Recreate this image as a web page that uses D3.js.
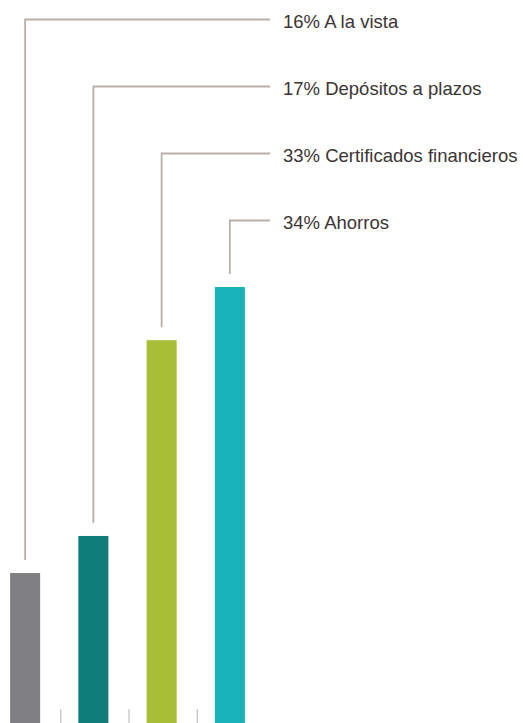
<!DOCTYPE html>
<html>
<head>
<meta charset="utf-8">
<script src="https://cdn.jsdelivr.net/npm/d3@7/dist/d3.min.js"></script>
<style>
  html, body { margin: 0; padding: 0; background: #ffffff; }
  svg { display: block; }
</style>
</head>
<body>
<svg id="chart" width="523" height="723"></svg>
<script>
// Data
const categories = ["A la vista", "Depósitos a plazos", "Certificados financieros", "Ahorros"];
const shares = [16, 17, 33, 34];                 // percent labels
const barLevel = [34.4, 42.9, 87.8, 100];        // drawn bar height, relative to tallest bar
const colors = ["#808083", "#0f7e79", "#a8be37", "#18b2bb"];

const W = 523, H = 723;
const svg = d3.select("#chart");

const x = d3.scaleBand()
  .domain(categories)
  .range([-9, 264])
  .paddingInner(0.56)
  .paddingOuter(0.28);

const y = d3.scaleLinear()
  .domain([0, 100])
  .range([H, 287]);

const lineColor = "#b8afab";

// Bars
svg.selectAll("rect.bar")
  .data(categories)
  .join("rect")
  .attr("class", "bar")
  .attr("x", d => x(d))
  .attr("width", x.bandwidth())
  .attr("y", (d, i) => y(barLevel[i]))
  .attr("height", (d, i) => H - y(barLevel[i]))
  .attr("fill", (d, i) => colors[i]);

// Small separator ticks at the base, between bars
const step = x.step();
svg.selectAll("line.sep")
  .data(categories.slice(1))
  .join("line")
  .attr("class", "sep")
  .attr("x1", d => x(d) - (step - x.bandwidth()) / 2 + 1.5)
  .attr("x2", d => x(d) - (step - x.bandwidth()) / 2 + 1.5)
  .attr("y1", H - 14)
  .attr("y2", H)
  .attr("stroke", "#c6c0bd")
  .attr("stroke-width", 1.2);

// Leader lines and labels
const labelX = 270;
const labelY0 = 19.5, labelStep = 67;
const g = svg.selectAll("g.lab")
  .data(categories)
  .join("g")
  .attr("class", "lab");

g.append("path")
  .attr("d", (d, i) => {
    const cx = x(d) + x.bandwidth() / 2;
    const ly = labelY0 + i * labelStep;
    const yb = y(barLevel[i]) - 13;
    return `M${cx},${yb}V${ly}H${labelX}`;
  })
  .attr("fill", "none")
  .attr("stroke", lineColor)
  .attr("stroke-width", 1.8);

g.append("text")
  .attr("x", labelX + 13)
  .attr("y", (d, i) => labelY0 + i * labelStep + 8.5)
  .attr("font-family", "'Liberation Sans', Arial, Helvetica, sans-serif")
  .attr("font-size", 18.5)
  .attr("fill", "#3b3434")
  .text((d, i) => `${shares[i]}% ${d}`);
</script>
</body>
</html>
